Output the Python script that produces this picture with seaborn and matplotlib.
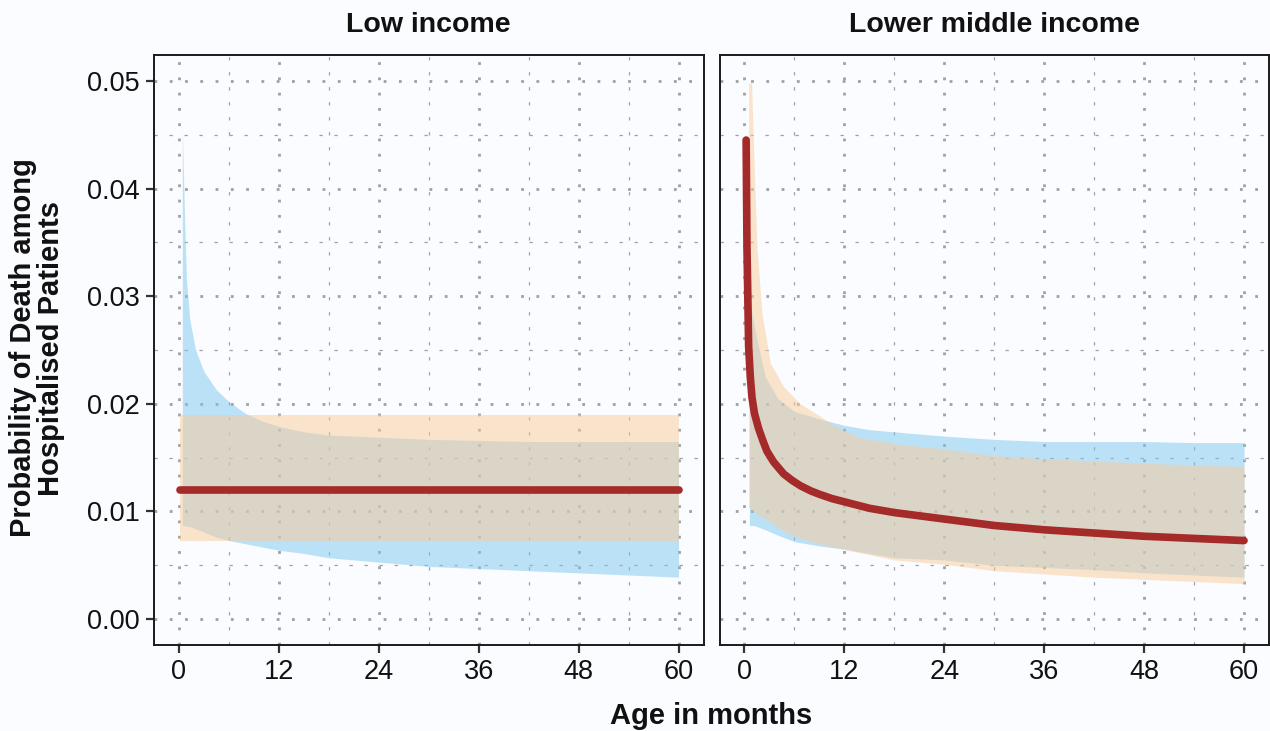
import matplotlib
matplotlib.use("Agg")
import matplotlib.pyplot as plt
import seaborn as sns
import pandas as pd

# ---------------- data ----------------
panels = ["Low income", "Lower middle income"]

# Low income
low_line_age = [0.12, 60]
low_line_est = [0.0120, 0.0120]
low_orange_age = [0.17, 60]
low_orange_lo = [0.0073, 0.0073]
low_orange_hi = [0.0190, 0.0190]
low_blue_age = [0.4, 0.55, 0.7, 0.9, 1.3, 2, 3, 4.5, 6, 8, 10, 12, 15, 18, 24, 30, 36, 42, 48, 54, 60]
low_blue_hi = [0.0455, 0.0410, 0.0365, 0.0315, 0.0278, 0.0250, 0.0230, 0.0213, 0.0202, 0.0191, 0.0184,
               0.0179, 0.0174, 0.0171, 0.0169, 0.0167, 0.0166, 0.0165, 0.0165, 0.0165, 0.0165]
low_blue_lo = [0.0087, 0.0087, 0.0087, 0.0086, 0.0086, 0.0084, 0.0081, 0.0076, 0.0073, 0.0070, 0.0067,
               0.0064, 0.0061, 0.0057, 0.0053, 0.0049, 0.0047, 0.0045, 0.0043, 0.0041, 0.0039]

# Lower middle income
lmi_line_age = [0.2, 0.3, 0.5, 0.7, 0.9, 1.2, 1.7, 2.2, 2.7, 3.5, 4.7, 5.7, 6.7, 8, 9, 10.5, 12,
                15, 18, 24, 30, 36, 42, 48, 54, 60]
lmi_line_est = [0.0445, 0.0346, 0.0253, 0.0225, 0.0206, 0.0191, 0.0177, 0.0166, 0.0156, 0.0146,
                0.0135, 0.0129, 0.0124, 0.0119, 0.0116, 0.0112, 0.0109,
                0.0103, 0.0099, 0.0093, 0.0087, 0.0083, 0.0080, 0.0077, 0.0075, 0.0073]
lmi_orange_age = [0.5, 0.85, 1.1, 1.5, 2.1, 3.1, 4.7, 6.7, 9, 10.7, 13.7, 18, 24, 30, 36, 42, 48, 54, 60]
lmi_orange_hi = [0.0498, 0.0498, 0.0436, 0.0345, 0.0284, 0.0238, 0.0216, 0.0200, 0.0189, 0.0180,
                 0.0169, 0.0163, 0.0158, 0.0152, 0.0149, 0.0147, 0.0145, 0.0143, 0.0142]
lmi_orange_lo = [0.0104, 0.0102, 0.0100, 0.0098, 0.0095, 0.0090, 0.0082, 0.0075, 0.0070, 0.0067,
                 0.0062, 0.0055, 0.0051, 0.0045, 0.0042, 0.0039, 0.0037, 0.0035, 0.0033]
lmi_blue_age = [0.6, 1, 1.5, 2.5, 4, 6, 9, 12, 15, 18, 24, 30, 36, 42, 48, 54, 60]
lmi_blue_hi = [0.0300, 0.0280, 0.0260, 0.0225, 0.0205, 0.0193, 0.0186, 0.0180, 0.0176, 0.0174,
               0.0170, 0.0167, 0.0165, 0.0165, 0.0165, 0.0164, 0.0164]
lmi_blue_lo = [0.0087, 0.0087, 0.0086, 0.0083, 0.0078, 0.0072, 0.0068, 0.0065, 0.0061, 0.0057,
               0.0055, 0.0050, 0.0048, 0.0046, 0.0043, 0.0041, 0.0039]

x_ticks = [0, 12, 24, 36, 48, 60]
x_minor = [6, 18, 30, 42, 54]
y_ticks = [0.00, 0.01, 0.02, 0.03, 0.04, 0.05]
y_tick_labels = ["0.00", "0.01", "0.02", "0.03", "0.04", "0.05"]
y_minor = [0.005, 0.015, 0.025, 0.035, 0.045]

# ---------------- style ----------------
sns.set_theme(style="white")
BG = "#FAFCFF"
plt.rcParams["font.family"] = ["Liberation Sans", "DejaVu Sans"]
plt.rcParams["lines.scale_dashes"] = False

BLUE = "#7DC7F1"
ORANGE = "#FBCB99"
RED = "#A52A2A"
GRID = "#A0A0A0"
TXT = "#111111"

fig = plt.figure(figsize=(12.7, 7.31), dpi=100, facecolor=BG)
W, H = 1270, 731
y0 = (H - 645) / H
hgt = 590 / H
ax1 = fig.add_axes([154 / W, y0, 549.5 / W, hgt])
ax2 = fig.add_axes([719.5 / W, y0, 549.5 / W, hgt], sharey=ax1)

line_df = pd.concat([
    pd.DataFrame({"age": low_line_age, "est": low_line_est, "panel": panels[0]}),
    pd.DataFrame({"age": lmi_line_age, "est": lmi_line_est, "panel": panels[1]}),
])

ribbons = {
    panels[0]: [(low_blue_age, low_blue_lo, low_blue_hi, BLUE),
                (low_orange_age, low_orange_lo, low_orange_hi, ORANGE)],
    panels[1]: [(lmi_blue_age, lmi_blue_lo, lmi_blue_hi, BLUE),
                (lmi_orange_age, lmi_orange_lo, lmi_orange_hi, ORANGE)],
}

for ax, name in zip([ax1, ax2], panels):
    ax.set_facecolor(BG)
    ax.set_axisbelow(True)
    for age, lo, hi, col in ribbons[name]:
        ax.fill_between(age, lo, hi, color=col, alpha=0.5, linewidth=0, zorder=1)
    sub = line_df[line_df["panel"] == name]
    sns.lineplot(data=sub, x="age", y="est", ax=ax, color=RED, linewidth=5.5,
                 solid_capstyle="round", solid_joinstyle="round",
                 estimator=None, sort=True, zorder=3)
    ax.set_xlim(-3, 63)
    ax.set_ylim(-0.0024, 0.0524)
    ax.set_xticks(x_ticks)
    ax.set_xticks(x_minor, minor=True)
    ax.set_yticks(y_ticks)
    ax.set_yticks(y_minor, minor=True)
    ax.set_xticklabels([str(v) for v in x_ticks])
    ax.grid(which="major", color=GRID, linewidth=2.0, linestyle=(0, (2.0, 9.0)))
    ax.grid(which="minor", color=GRID, linewidth=0.9, linestyle=(0, (2.4, 8.4)))
    ax.tick_params(which="minor", length=0)
    ax.tick_params(which="major", length=6, width=1.6, color="#333333",
                   labelsize=19.5, labelcolor=TXT, pad=4, bottom=True, left=True)
    for s in ax.spines.values():
        s.set_color("#1a1a1a")
        s.set_linewidth(1.4)
    ax.set_xlabel("")
    ax.set_ylabel("")

ax1.set_yticklabels(y_tick_labels)
ax2.tick_params(axis="y", left=False, labelleft=False)

# strip titles
fig.text((154 + 703.5) / 2 / W, (H - 25) / H, panels[0], ha="center", va="center",
         fontsize=20.5, fontweight="bold", color=TXT)
fig.text((719.5 + 1269) / 2 / W, (H - 25) / H, panels[1], ha="center", va="center",
         fontsize=20.5, fontweight="bold", color=TXT)

fig.text((154 + 1269) / 2 / W, 15 / H, "Age in months", ha="center", va="center",
         fontsize=21, fontweight="bold", color=TXT)
fig.text(37 / W, (H - 348) / H, "Probability of Death among\nHospitalised Patients",
         rotation=90, ha="center", va="center", fontsize=21, fontweight="bold",
         color=TXT, linespacing=1.0)

fig.savefig("out.png", dpi=100, facecolor=BG)
